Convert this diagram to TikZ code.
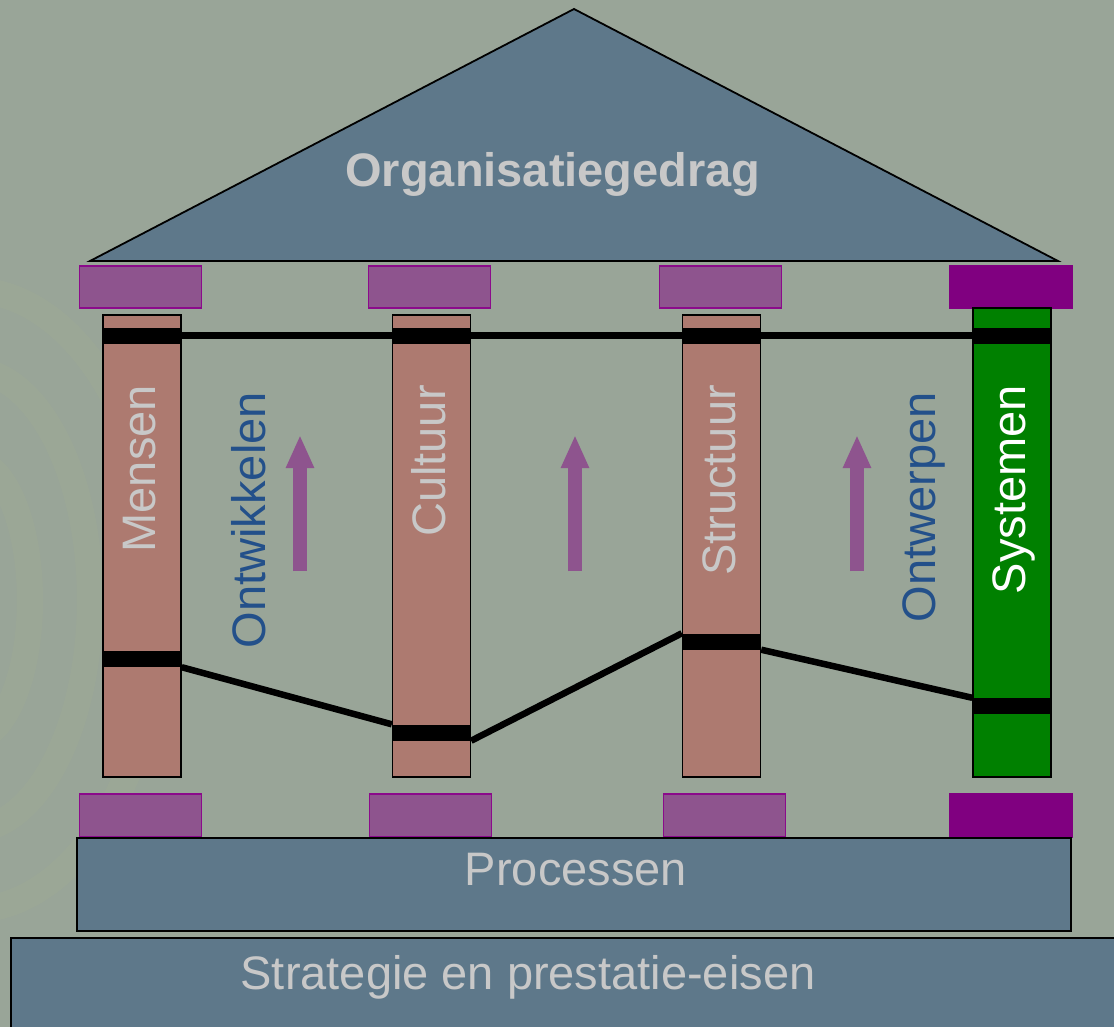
\documentclass[tikz,border=0pt]{standalone}
\usepackage{fontspec}
\setmainfont{Liberation Sans}
\usetikzlibrary{arrows.meta}
\definecolor{bg}{HTML}{99A598}
\definecolor{roofc}{HTML}{5E788A}
\definecolor{lighttxt}{HTML}{C8C8C8}
\definecolor{pillarc}{HTML}{AD7A70}
\definecolor{capfill}{HTML}{8E548E}
\definecolor{capedge}{HTML}{8B0A8B}
\definecolor{capdark}{HTML}{800080}
\definecolor{sysgreen}{HTML}{008000}
\definecolor{txtblue}{HTML}{23508A}
\definecolor{arrowc}{HTML}{8E548E}
\definecolor{swirl}{HTML}{A9B48E}
\tikzset{
  capbox/.style={rectangle, fill=capfill, draw=capedge, line width=1.5pt, minimum width=122pt, minimum height=42pt, inner sep=0pt},
  capboxdark/.style={capbox, fill=capdark, draw=capdark},
  pillarbox/.style={rectangle, fill=pillarc, draw=black, line width=1.8pt, minimum width=78pt, inner sep=0pt},
  bandbox/.style={rectangle, fill=black, minimum width=79pt, minimum height=16pt, inner sep=0pt},
  bigfont/.style={font=\fontsize{47}{56}\selectfont},
  vlabel/.style={rotate=90, anchor=base east, inner sep=0pt, bigfont},
  basebox/.style={rectangle, fill=roofc, draw=black, line width=2pt, inner sep=0pt},
  uparrow/.style={draw=arrowc, line width=14pt, -{Triangle[width=26pt,length=33pt]}},
  tieline/.style={draw=black, line width=6.5pt},
}
\begin{document}
\begin{tikzpicture}[x=1pt,y=-1pt]
\useasboundingbox (0,0) rectangle (1114,1027);
\fill[bg] (0,0) rectangle (1114,1027);
% faint background swirls on the left
\begin{scope}[swirl, opacity=0.18, line width=26pt]
  \draw (-30,600) ellipse (120 and 230);
  \draw (-30,600) ellipse (190 and 310);
  \draw (-30,600) ellipse (60 and 140);
\end{scope}
% roof
\draw[fill=roofc, draw=black, line width=1.8pt, line join=miter] (90,261) -- (574,9) -- (1058,261) -- cycle;
\node[anchor=base, inner sep=0pt, text=lighttxt, font=\fontsize{47}{56}\selectfont\bfseries] (org) at (553,187) {Organisatiegedrag};
% top capitals
\node[capbox] (c1t) at (140.5,287) {};
\node[capbox] (c2t) at (429.5,287) {};
\node[capbox] (c3t) at (720.5,287) {};
\node[capboxdark] (c4t) at (1011,287) {};
% pillars
\node[pillarbox, minimum height=462pt] (p1) at (142,546) {};
\node[pillarbox, minimum height=462pt] (p2) at (431.5,546) {};
\node[pillarbox, minimum height=462pt] (p3) at (721.5,546) {};
\node[pillarbox, fill=sysgreen, minimum height=469pt] (p4) at (1012,542.5) {};
% top bands
\node[bandbox] (b1t) at (142,335.5) {};
\node[bandbox] (b2t) at (431.5,335.5) {};
\node[bandbox] (b3t) at (721.5,335.5) {};
\node[bandbox] (b4t) at (1012,335.5) {};
% bottom bands
\node[bandbox] (b1b) at (142,659) {};
\node[bandbox] (b2b) at (431.5,732.5) {};
\node[bandbox] (b3b) at (721.5,641.5) {};
\node[bandbox] (b4b) at (1012,706) {};
% tie lines
\draw[tieline, line width=7.5pt] (b1t.east) -- (b4t.west);
\draw[tieline] (b1b.south east) -- (b2b.north west);
\draw[tieline] (b2b.south east) -- (b3b.north west);
\draw[tieline] (b3b.south east) -- (b4b.north west);
% pillar labels
\node[vlabel, text=lighttxt] (lm) at (155,385) {Mensen};
\node[vlabel, text=lighttxt] (lc) at (445,385) {Cultuur};
\node[vlabel, text=lighttxt] (ls) at (735,385) {Structuur};
\node[vlabel, text=white] (ly) at (1025,385) {Systemen};
\node[vlabel, text=txtblue] (lo1) at (265,392) {Ontwikkelen};
\node[vlabel, text=txtblue] (lo2) at (935,392) {Ontwerpen};
% arrows
\coordinate (a1s) at (300,571); \coordinate (a1e) at (300,435);
\coordinate (a2s) at (575,571); \coordinate (a2e) at (575,435);
\coordinate (a3s) at (857,571); \coordinate (a3e) at (857,435);
\draw[uparrow] (a1s) -- (a1e);
\draw[uparrow] (a2s) -- (a2e);
\draw[uparrow] (a3s) -- (a3e);
% bottom capitals
\node[capbox, minimum height=43pt] (c1b) at (140.5,815.5) {};
\node[capbox, minimum height=43pt] (c2b) at (430.5,815.5) {};
\node[capbox, minimum height=43pt] (c3b) at (724.5,815.5) {};
\node[capboxdark, minimum height=43pt] (c4b) at (1011,815.5) {};
% base
\node[basebox, minimum width=994pt, minimum height=93pt] (proc) at (574,884.5) {};
\node[anchor=base, inner sep=0pt, text=lighttxt, bigfont] (proct) at (576,885) {Processen};
\node[basebox, minimum width=1110pt, minimum height=100pt] (strat) at (566,988) {};
\node[anchor=base, inner sep=0pt, text=lighttxt, bigfont] (stratt) at (528,989) {Strategie en prestatie-eisen};
\end{tikzpicture}
\end{document}
